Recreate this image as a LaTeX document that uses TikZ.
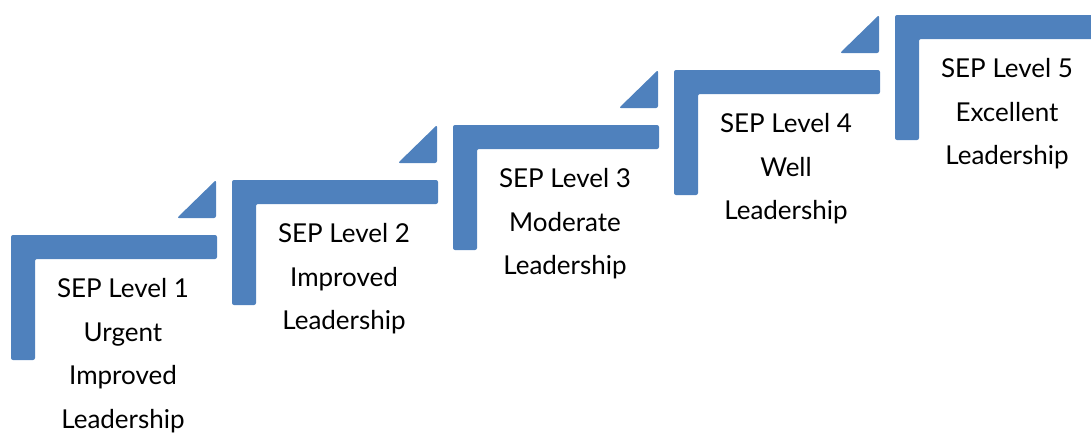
\documentclass[tikz,border=0pt]{standalone}
\usepackage{fontspec}
\setmainfont{Lato}
\usetikzlibrary{positioning}
\definecolor{stepblue}{HTML}{4F81BD}

\begin{document}
\begin{tikzpicture}[x=0.5pt,y=-0.5pt,
    stepbar/.style={fill=stepblue,rounded corners=1pt},
    steplabel/.style={align=center,anchor=north,inner sep=0pt,font=\fontsize{13}{21.8}\selectfont}]
  \useasboundingbox (0,0) rectangle (1091,436);
  % brackets of the stairs, one per level
  \foreach \i/\txt in {0/{SEP Level 1\\Urgent\\Improved\\Leadership},
                       1/{SEP Level 2\\Improved\\Leadership},
                       2/{SEP Level 3\\Moderate\\Leadership},
                       3/{SEP Level 4\\Well\\Leadership},
                       4/{SEP Level 5\\Excellent\\Leadership}} {
    \begin{scope}[shift={(221*\i,-55*\i)}]
      \fill[stepbar] (11,235) -- (217,235) -- (217,259) -- (35,259) -- (35,360) -- (11,360) -- cycle;
      \ifnum\i<4
        \fill[stepbar] (177,218) -- (216,180) -- (216,218) -- cycle;
      \fi
      \node[steplabel] (lvl\i) at (123,278) {\txt};
    \end{scope}
  }
\end{tikzpicture}
\end{document}
